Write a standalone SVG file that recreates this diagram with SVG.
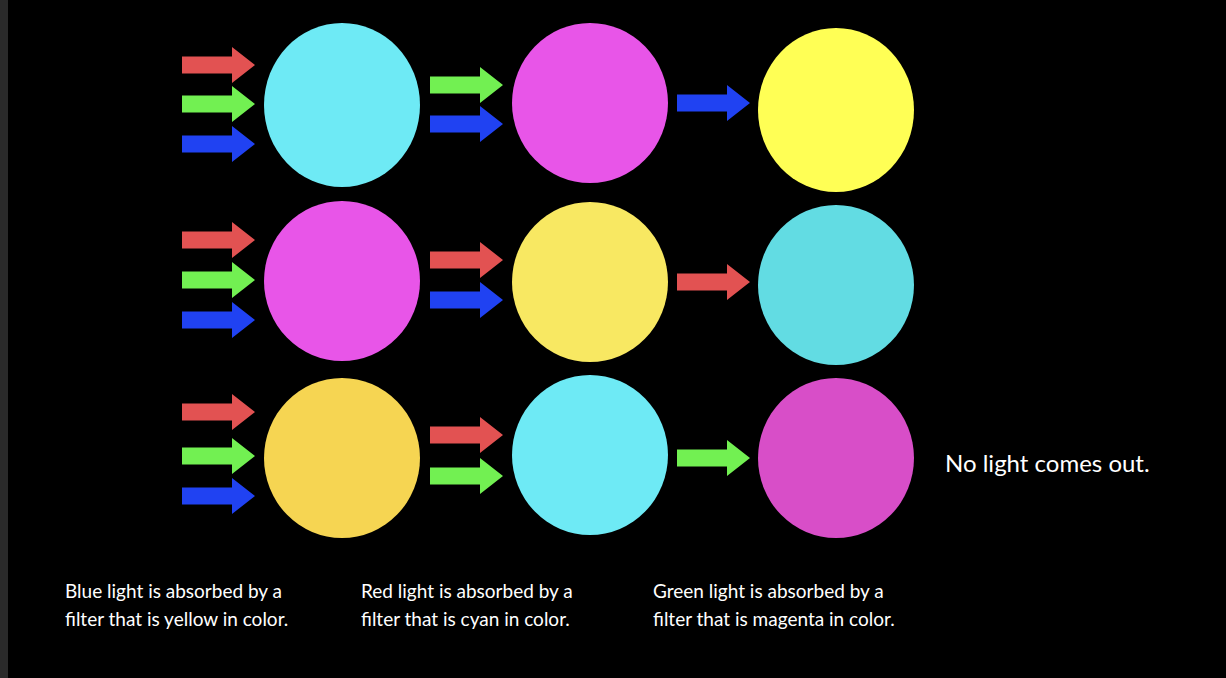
<svg xmlns="http://www.w3.org/2000/svg" width="1226" height="678" viewBox="0 0 1226 678">
<style>
.t{font-family:Lato,"Open Sans",sans-serif;font-size:19px;fill:#fff}
.r{fill:#e25252}.g{fill:#72f052}.b{fill:#2042f2}
</style>
<defs><path id="a" d="M0,-8.5H50V-18L73,0L50,18V8.5H0Z"/></defs>
<rect width="1226" height="678" fill="#000"/>
<rect width="8" height="678" fill="#2a2a2a"/>
<g id="connectors">
<use href="#a" class="r" x="182" y="65"/><use href="#a" class="g" x="182" y="104"/><use href="#a" class="b" x="182" y="144"/>
<use href="#a" class="g" x="430" y="85"/><use href="#a" class="b" x="430" y="124"/>
<use href="#a" class="b" x="677" y="103"/>
<use href="#a" class="r" x="182" y="240"/><use href="#a" class="g" x="182" y="280"/><use href="#a" class="b" x="182" y="320"/>
<use href="#a" class="r" x="430" y="260"/><use href="#a" class="b" x="430" y="300"/>
<use href="#a" class="r" x="677" y="282"/>
<use href="#a" class="r" x="182" y="412"/><use href="#a" class="g" x="182" y="456"/><use href="#a" class="b" x="182" y="496"/>
<use href="#a" class="r" x="430" y="435"/><use href="#a" class="g" x="430" y="476"/>
<use href="#a" class="g" x="677" y="458"/>
</g>
<g id="c11"><ellipse cx="342" cy="105" rx="78" ry="82" fill="#6eeaf5"/></g>
<g id="c12"><ellipse cx="590" cy="103" rx="78" ry="80" fill="#e855e8"/></g>
<g id="c13"><ellipse cx="836" cy="110" rx="78" ry="82" fill="#ffff55"/></g>
<g id="c21"><ellipse cx="342" cy="281" rx="78" ry="80" fill="#e855e8"/></g>
<g id="c22"><ellipse cx="590" cy="282" rx="78" ry="80" fill="#f8e862"/></g>
<g id="c23"><ellipse cx="836" cy="285" rx="78" ry="80" fill="#62dce3"/></g>
<g id="c31"><ellipse cx="342" cy="458" rx="78" ry="80" fill="#f6d552"/></g>
<g id="c32"><ellipse cx="590" cy="455" rx="78" ry="80" fill="#6eeaf5"/></g>
<g id="c33"><ellipse cx="836" cy="458" rx="78" ry="80" fill="#d84ec8"/></g>
<g id="labels">
<text class="t" x="65" y="598">Blue light is absorbed by a</text>
<text class="t" x="65" y="626">filter that is yellow in color.</text>
<text class="t" x="361" y="598">Red light is absorbed by a</text>
<text class="t" x="361" y="626">filter that is cyan in color.</text>
<text class="t" x="653" y="598">Green light is absorbed by a</text>
<text class="t" x="653" y="626">filter that is magenta in color.</text>
<text class="t" x="945" y="472" style="font-size:24px">No light comes out.</text>
</g>
</svg>
